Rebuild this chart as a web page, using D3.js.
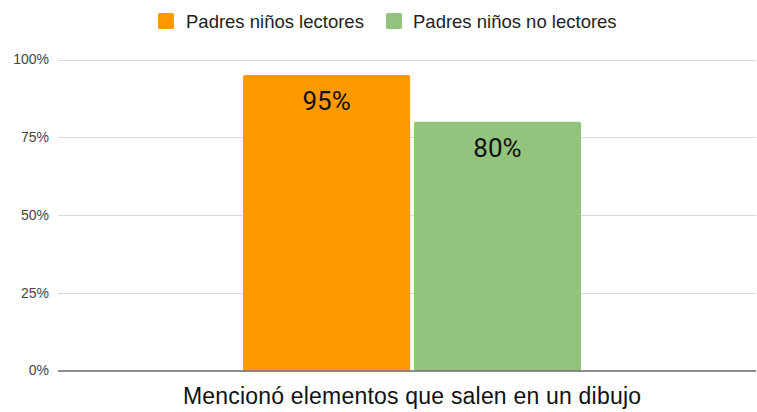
<!DOCTYPE html>
<html>
<head>
<meta charset="utf-8">
<script src="https://cdn.jsdelivr.net/npm/d3@7"></script>
<style>
  html, body { margin: 0; padding: 0; background: #fff; }
  svg { display: block; }
</style>
</head>
<body>
<svg id="chart" width="757" height="412"></svg>
<script>
// Data
const categories = ["Mencionó elementos que salen en un dibujo"];
const seriesNames = ["Padres niños lectores", "Padres niños no lectores"];
const seriesColors = ["#ff9900", "#93c47d"];
const seriesValues = [[0.95], [0.80]];
const yTicks = [0, 0.25, 0.5, 0.75, 1];

const svg = d3.select("#chart");
const plot = { left: 58, right: 756, top: 59.5, bottom: 370.5 };

const y = d3.scaleLinear().domain([0, 1]).range([plot.bottom, plot.top]);
const x0 = d3.scaleBand()
  .domain(categories)
  .range([plot.left, plot.right])
  .paddingInner(0)
  .paddingOuter(0.5325)
  .align(0.514);
const x1 = d3.scaleBand()
  .domain(seriesNames)
  .range([0, x0.bandwidth()])
  .paddingInner(0.022);

const fmt = d3.format(".0%");

// Gridlines
svg.append("g")
  .selectAll("line")
  .data(yTicks.filter(d => d > 0))
  .join("line")
  .attr("x1", plot.left).attr("x2", plot.right)
  .attr("y1", d => Math.round(y(d)) + 0.5).attr("y2", d => Math.round(y(d)) + 0.5)
  .attr("stroke", "#d9d9d9").attr("stroke-width", 1);

// Y axis labels
const yAxis = d3.axisLeft(y).tickValues(yTicks).tickFormat(fmt).tickSize(0).tickPadding(9);
const yg = svg.append("g").attr("transform", `translate(${plot.left},0)`).call(yAxis);
yg.select(".domain").remove();
yg.selectAll("text")
  .attr("font-family", "Liberation Sans, Arial, sans-serif")
  .attr("font-size", 14)
  .attr("fill", "#444");

// Bars
const groups = svg.append("g")
  .selectAll("g")
  .data(categories)
  .join("g")
  .attr("transform", d => `translate(${x0(d)},0)`);

seriesNames.forEach((name, si) => {
  groups.append("path")
    .attr("fill", seriesColors[si])
    .attr("d", (d, ci) => {
      const bx = x1(name), bw = x1.bandwidth();
      const top = y(seriesValues[si][ci]), bot = y(0), r = 2;
      return `M${bx},${bot}V${top + r}Q${bx},${top} ${bx + r},${top}H${bx + bw - r}Q${bx + bw},${top} ${bx + bw},${top + r}V${bot}Z`;
    });
  groups.append("text")
    .attr("x", x1(name) + x1.bandwidth() / 2)
    .attr("y", (d, ci) => y(seriesValues[si][ci]) + 35)
    .attr("text-anchor", "middle")
    .attr("font-family", "Roboto, sans-serif")
    .attr("font-size", 26)
    .attr("fill", "#111")
    .text((d, ci) => fmt(seriesValues[si][ci]));
});

// Baseline
svg.append("line")
  .attr("x1", plot.left).attr("x2", plot.right)
  .attr("y1", plot.bottom + 0.5).attr("y2", plot.bottom + 0.5)
  .attr("stroke", "#666").attr("stroke-width", 1.5);

// Category label
svg.append("g")
  .selectAll("text")
  .data(categories)
  .join("text")
  .attr("x", d => x0(d) + x0.bandwidth() / 2)
  .attr("y", 404)
  .attr("text-anchor", "middle")
  .attr("font-family", "Liberation Sans, Arial, sans-serif")
  .attr("font-size", 23)
  .attr("letter-spacing", 0.2)
  .attr("fill", "#111")
  .text(d => d);

// Legend
const legendPos = [{ sx: 158, tx: 186 }, { sx: 386, tx: 413 }];
const legend = svg.append("g");
seriesNames.forEach((name, i) => {
  legend.append("rect")
    .attr("x", legendPos[i].sx).attr("y", 13)
    .attr("width", 16).attr("height", 16)
    .attr("rx", 1.5)
    .attr("fill", seriesColors[i]);
  legend.append("text")
    .attr("x", legendPos[i].tx).attr("y", 27.5)
    .attr("font-family", "Liberation Sans, Arial, sans-serif")
    .attr("font-size", 18.5)
    .attr("fill", "#222")
    .text(name);
});
</script>
</body>
</html>
